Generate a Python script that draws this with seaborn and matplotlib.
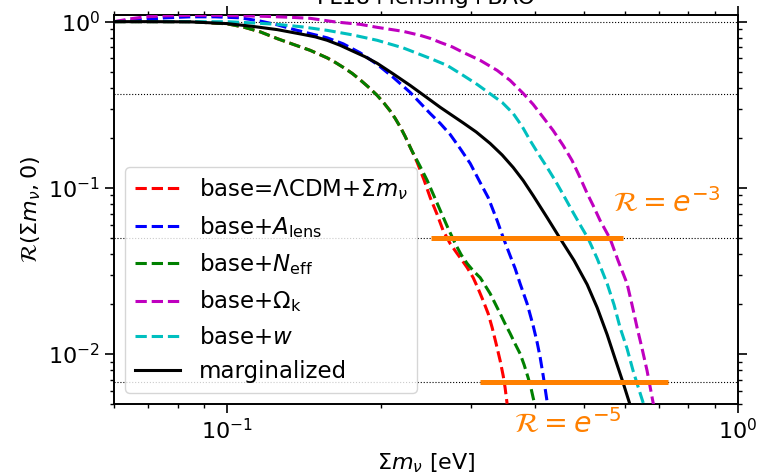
import numpy as np
import matplotlib
matplotlib.use("Agg")
import matplotlib.pyplot as plt
import seaborn as sns

#-----------------------------------------------------------------------------------------------------
# Data (sum of neutrino masses in eV, relative likelihood R)
#-----------------------------------------------------------------------------------------------------
mnu_base = [0.0601, 0.0707, 0.0846, 0.1, 0.1075, 0.1160, 0.1253, 0.1346, 0.1453, 0.1569, 0.1627,
            0.1687, 0.1756, 0.1821, 0.1888, 0.1966, 0.2029, 0.2084, 0.2132, 0.2181, 0.2230,
            0.2292, 0.2354, 0.2430, 0.2496, 0.2576, 0.2646, 0.2731, 0.2819, 0.2884, 0.2949,
            0.3030, 0.3099, 0.3170, 0.3242, 0.3301, 0.3361, 0.3422, 0.3469, 0.3499, 0.3531]
R_base = [1.0, 1.0, 1.0, 0.970, 0.928, 0.868, 0.790, 0.730, 0.672, 0.605, 0.5685,
          0.5304, 0.4882, 0.4460, 0.4048, 0.3597, 0.3220, 0.2902, 0.2615, 0.2324, 0.2037,
          0.1701, 0.1421, 0.1107, 0.0874, 0.0690, 0.0553, 0.0462, 0.0402, 0.0365, 0.0331,
          0.0288, 0.0247, 0.0209, 0.0175, 0.0144, 0.0115, 0.00911, 0.00740, 0.00627, 0.00502]

mnu_alens = [0.0601, 0.0676, 0.0756, 0.0846, 0.0947, 0.1060, 0.1160, 0.1253, 0.1346, 0.1453,
             0.1569, 0.1687, 0.1821, 0.1966, 0.2113, 0.2281, 0.2496, 0.2612, 0.2731, 0.2857,
             0.2990, 0.3127, 0.3242, 0.3376, 0.3469, 0.3579, 0.3661, 0.3744, 0.3864, 0.3971,
             0.4044, 0.4099, 0.4155, 0.4192, 0.4229, 0.4250]
R_alens = [1.0, 1.025, 1.054, 1.069, 1.069, 1.054, 1.008, 0.957, 0.899, 0.847,
           0.799, 0.735, 0.6486, 0.553, 0.462, 0.375, 0.280, 0.244, 0.2095, 0.1724,
           0.1401, 0.1076, 0.0874, 0.0635, 0.0502, 0.0391, 0.0327, 0.0265, 0.0201, 0.0148,
           0.0117, 0.00952, 0.00740, 0.00618, 0.00516, 0.00475]

mnu_neff = [0.0601, 0.0707, 0.0846, 0.1, 0.1075, 0.1160, 0.1253, 0.1346, 0.1453, 0.1569, 0.1627,
            0.1687, 0.1756, 0.1821, 0.1888, 0.1966, 0.2029, 0.2084, 0.2132, 0.2181, 0.2230,
            0.2292, 0.2386, 0.2463, 0.2542, 0.2623, 0.2707, 0.2794, 0.2870, 0.2949, 0.3030,
            0.3127, 0.3199, 0.3271, 0.3346, 0.3422, 0.3499, 0.3579, 0.3661, 0.3744, 0.3812,
            0.3882, 0.3935, 0.3971, 0.4007]
R_neff = [1.0, 1.0, 1.0, 0.970, 0.928, 0.868, 0.790, 0.730, 0.672, 0.605, 0.5685,
          0.5304, 0.4882, 0.4460, 0.4048, 0.3597, 0.3220, 0.2902, 0.2615, 0.2324, 0.2037,
          0.1701, 0.1344, 0.1107, 0.0886, 0.0710, 0.0569, 0.0462, 0.0396, 0.0350, 0.0317,
          0.0288, 0.0258, 0.0231, 0.0201, 0.0175, 0.0152, 0.0133, 0.0115, 0.01004, 0.00862,
          0.00720, 0.00618, 0.00545, 0.00488]

mnu_omk = [0.0601, 0.0646, 0.0691, 0.0756, 0.0846, 0.0947, 0.1060, 0.1187, 0.1328, 0.1453,
           0.1627, 0.1821, 0.1966, 0.2210, 0.2386, 0.2496, 0.2612, 0.2757, 0.2896, 0.3127,
           0.3376, 0.3579, 0.3796, 0.3971, 0.4155, 0.4345, 0.4546, 0.4732, 0.4906, 0.5067,
           0.5205, 0.5371, 0.5616, 0.5823, 0.6065, 0.6202, 0.6345, 0.6490, 0.6637, 0.6728,
           0.6820, 0.6881]
R_omk = [1.0, 1.040, 1.069, 1.084, 1.091, 1.091, 1.084, 1.076, 1.062, 1.047,
         0.996, 0.963, 0.924, 0.874, 0.827, 0.793, 0.750, 0.705, 0.653, 0.585,
         0.509, 0.443, 0.370, 0.3177, 0.2652, 0.2214, 0.1799, 0.1461, 0.1153, 0.0924,
         0.0782, 0.0635, 0.0495, 0.0365, 0.0265, 0.01976, 0.0144, 0.01076, 0.00793, 0.00635,
         0.00509, 0.00455]

mnu_w = [0.0601, 0.0740, 0.0886, 0.1, 0.1119, 0.1253, 0.1402, 0.1569, 0.1756, 0.1966,
         0.2210, 0.2496, 0.2695, 0.2896, 0.3085, 0.3271, 0.3453, 0.3629, 0.3779, 0.3917,
         0.4061, 0.4229, 0.4385, 0.4546, 0.4755, 0.4929, 0.5089, 0.5300, 0.5544, 0.5719,
         0.5877, 0.6065, 0.6231, 0.6373, 0.6520, 0.6577]
R_w = [1.0, 1.0, 0.999, 0.999, 0.983, 0.963, 0.930, 0.886, 0.833, 0.772,
       0.695, 0.601, 0.545, 0.475, 0.419, 0.368, 0.3265, 0.280, 0.234, 0.1927,
       0.1609, 0.1326, 0.1107, 0.0911, 0.0710, 0.0585, 0.0495, 0.0375, 0.0265, 0.01976,
       0.0144, 0.01076, 0.00793, 0.00635, 0.00509, 0.00455]

mnu_marg = [0.0601, 0.0707, 0.0846, 0.1, 0.1119, 0.1253, 0.1402, 0.1486, 0.1569, 0.1664,
            0.1756, 0.1863, 0.1966, 0.2113, 0.2281, 0.2441, 0.2612, 0.2757, 0.2896, 0.3071,
            0.3271, 0.3453, 0.3629, 0.3796, 0.3971, 0.4229, 0.4485, 0.4776, 0.5067, 0.5300,
            0.5544, 0.5745, 0.5957, 0.6146]
R_marg = [1.0, 1.0, 0.997, 0.973, 0.937, 0.895, 0.839, 0.810, 0.772, 0.720,
          0.667, 0.614, 0.561, 0.4847, 0.413, 0.355, 0.305, 0.2725, 0.2460, 0.2169,
          0.1849, 0.1576, 0.1326, 0.1107, 0.0898, 0.0662, 0.0495, 0.0365, 0.02615, 0.0190,
          0.01307, 0.00937, 0.00671, 0.00495]

series_labels = [r"base=$\Lambda$CDM+$\Sigma m_\nu$", r"base+$A_\mathrm{lens}$",
                 r"base+$N_\mathrm{eff}$", r"base+$\Omega_\mathrm{k}$", r"base+$w$",
                 "marginalized"]

# reference levels R = e^0, e^-1, e^-3, e^-5
ref_levels = [1.0, np.exp(-1), np.exp(-3), np.exp(-5)]
# orange bars at e^-3 and e^-5
bar_e3_x = [0.25, 0.595]
bar_e5_x = [0.313, 0.728]

#-----------------------------------------------------------------------------------------------------
# Function Name    : plot_rejection
# Description      : Draws the R(sum m_nu, 0) curves on log-log axes and saves out.png
#-----------------------------------------------------------------------------------------------------
def plot_rejection():
    plt.rcParams["font.size"] = 16
    plt.rcParams["axes.linewidth"] = 1.4

    fig = plt.figure(figsize=(7.58, 4.76), dpi=100)
    ax = fig.add_axes([0.1504, 0.1513, 0.8232, 0.8177])

    curves = [(mnu_base, R_base, "r", "--"),
              (mnu_alens, R_alens, "b", "--"),
              (mnu_neff, R_neff, "g", "--"),
              (mnu_omk, R_omk, "m", "--"),
              (mnu_w, R_w, "c", "--"),
              (mnu_marg, R_marg, "k", "-")]

    for (xs, ys, col, ls), lab in zip(curves, series_labels):
        sns.lineplot(x=xs, y=ys, color=col, linestyle=ls, lw=2.2,
                     label=lab, ax=ax, zorder=3)

    for lvl in ref_levels:
        ax.axhline(lvl, color="k", ls=":", lw=0.8, zorder=1)

    ax.hlines(np.exp(-3), bar_e3_x[0], bar_e3_x[1], color="#ff8000", lw=3.6, zorder=4)
    ax.hlines(np.exp(-5), bar_e5_x[0], bar_e5_x[1], color="#ff8000", lw=3.6, zorder=4)

    ax.set_xscale("log")
    ax.set_yscale("log")
    ax.set_xlim(0.06, 1.0)
    ax.set_ylim(0.005, 1.1)

    ax.text(0.726, 0.0805, r"$\mathcal{R}=e^{-3}$", color="#ff8000", fontsize=20.5,
            ha="center", va="center")
    ax.text(0.465, 0.0038, r"$\mathcal{R}=e^{-5}$", color="#ff8000", fontsize=20.5,
            ha="center", va="center", clip_on=False)

    ax.set_xlabel(r"$\Sigma m_\nu$ [eV]", labelpad=6)
    ax.set_ylabel(r"$\mathcal{R}(\Sigma m_\nu, 0)$")

    ax.tick_params(which="both", direction="out", top=True, right=True)
    ax.tick_params(which="major", length=6.5, width=1.2)
    ax.tick_params(which="minor", length=3.2, width=1.0)

    ax.legend(loc="lower left", fontsize=16.5)

    # title sits mostly above the saved area, only its bottom shows
    fig.text(0.562, 1 - 3.5 / 476, "PL18+lensing+BAO", ha="center", va="baseline", fontsize=16)

    fig.savefig("out.png", dpi=100)

#-----------------------------------------------------------------------------------------------------
# Function Name    : main
#-----------------------------------------------------------------------------------------------------
def main():
    plot_rejection()

if __name__ == "__main__":
    main()
